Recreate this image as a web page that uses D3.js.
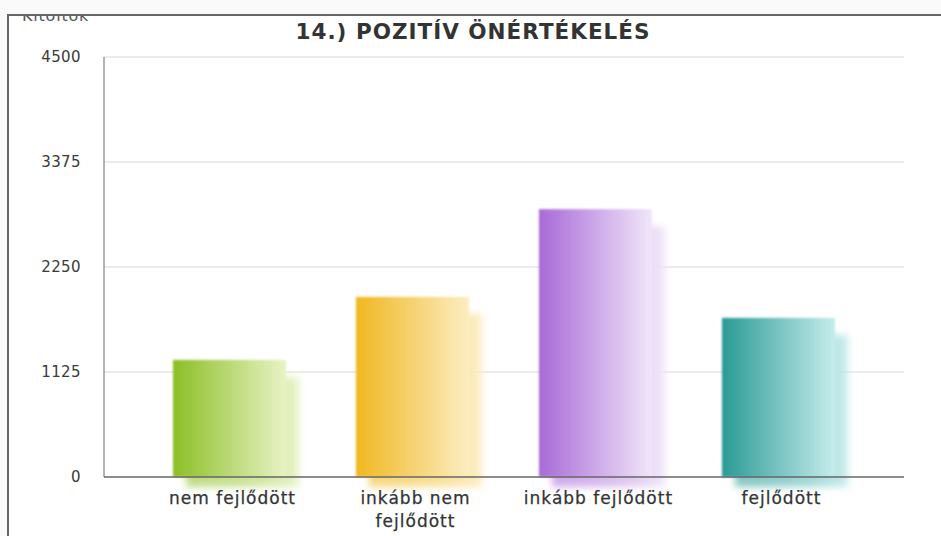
<!DOCTYPE html>
<html>
<head>
<meta charset="utf-8">
<script src="https://cdn.jsdelivr.net/npm/d3@7"></script>
<style>
  html, body { margin: 0; padding: 0; background: #fafafa; }
  svg { display: block; }
</style>
</head>
<body>
<svg id="chart" width="941" height="536"></svg>
<script>
// ---- data ----
const title = "14.) POZITÍV ÖNÉRTÉKELÉS";
const yAxisLabel = "Kitöltők";
const categories = ["nem fejlődött", "inkább nem fejlődött", "inkább fejlődött", "fejlődött"];
const values = [1255, 1930, 2870, 1705];
const yTicks = [0, 1125, 2250, 3375, 4500];
const colorsDark = ["#8cbf26", "#f0b820", "#a86ad8", "#2a9a94"];
const colorsLight = ["#e8f3c6", "#fcedc2", "#f1e6f9", "#c6ecec"];

// ---- layout ----
const W = 941, H = 536;
const svg = d3.select("#chart");
const defs = svg.append("defs");

const x = d3.scaleBand().domain(categories).range([104, 904])
  .paddingInner(0.382).paddingOuter(0.377);
const y = d3.scaleLinear().domain([0, 4500]).range([477, 57]);

// frame
defs.append("clipPath").attr("id", "frameClip")
  .append("rect").attr("x", 9).attr("y", 16).attr("width", W).attr("height", H);
svg.append("rect").attr("x", 8).attr("y", 15).attr("width", W + 10).attr("height", H + 10)
  .attr("fill", "#ffffff").attr("stroke", "#666").attr("stroke-width", 2);

const g = svg.append("g").attr("clip-path", "url(#frameClip)");

// filters
const blur = defs.append("filter").attr("id", "blurShadow")
  .attr("x", "-30%").attr("y", "-30%").attr("width", "160%").attr("height", "160%");
blur.append("feGaussianBlur").attr("stdDeviation", 3.5);
const soft = defs.append("filter").attr("id", "soft")
  .attr("x", "-10%").attr("y", "-10%").attr("width", "120%").attr("height", "120%");
soft.append("feGaussianBlur").attr("stdDeviation", 0.8);

// gridlines
g.append("g").selectAll("line").data(yTicks.filter(d => d > 0)).join("line")
  .attr("x1", 104).attr("x2", 904)
  .attr("y1", d => y(d)).attr("y2", d => y(d))
  .attr("stroke", "#ebebeb").attr("stroke-width", 2);

// gradients
categories.forEach((c, i) => {
  const gr = defs.append("linearGradient").attr("id", "grad" + i)
    .attr("x1", "0%").attr("x2", "100%").attr("y1", "0%").attr("y2", "0%");
  gr.append("stop").attr("offset", "0%").attr("stop-color", colorsDark[i]);
  gr.append("stop").attr("offset", "100%").attr("stop-color", colorsLight[i]);
  const gs = defs.append("linearGradient").attr("id", "shad" + i)
    .attr("x1", "0%").attr("x2", "100%").attr("y1", "0%").attr("y2", "0%");
  gs.append("stop").attr("offset", "0%").attr("stop-color", colorsDark[i]).attr("stop-opacity", 0.55);
  gs.append("stop").attr("offset", "100%").attr("stop-color", colorsLight[i]).attr("stop-opacity", 0.95);
});

// y tick labels
g.append("g").selectAll("text").data(yTicks).join("text")
  .attr("x", 81).attr("y", d => y(d)).attr("dy", "0.36em")
  .attr("text-anchor", "end")
  .attr("font-family", "DejaVu Sans, Verdana, sans-serif")
  .attr("font-size", 15).attr("letter-spacing", 0.4)
  .attr("fill", "#3a3a3a")
  .text(d => d);

// y axis label (clipped at top by the frame)
g.append("text").attr("x", 22).attr("y", 21)
  .attr("font-family", "DejaVu Sans, Verdana, sans-serif")
  .attr("font-size", 16).attr("letter-spacing", 0.8).attr("fill", "#555")
  .text(yAxisLabel);

// bar shadows
const bw = x.bandwidth();
g.append("g").selectAll("rect").data(values).join("rect")
  .attr("x", (d, i) => x(categories[i]) + 13)
  .attr("y", d => y(d) + 17)
  .attr("width", bw)
  .attr("height", d => y(0) - y(d) - 7)
  .attr("fill", (d, i) => `url(#shad${i})`)
  .attr("filter", "url(#blurShadow)");

// bars
g.append("g").selectAll("rect").data(values).join("rect")
  .attr("x", (d, i) => x(categories[i]))
  .attr("y", d => y(d))
  .attr("width", bw)
  .attr("height", d => y(0) - y(d))
  .attr("fill", (d, i) => `url(#grad${i})`)
  .attr("filter", "url(#soft)");

// axes lines
g.append("line").attr("x1", 104).attr("x2", 104).attr("y1", y(4500)).attr("y2", y(0))
  .attr("stroke", "#9a9a9a").attr("stroke-width", 1.5);
g.append("line").attr("x1", 104).attr("x2", 904).attr("y1", y(0)).attr("y2", y(0))
  .attr("stroke", "#666").attr("stroke-width", 1.5);

// category labels with wrapping
const labelFont = "DejaVu Sans, Verdana, sans-serif";
const measure = svg.append("text").attr("font-family", labelFont)
  .attr("font-size", 17).attr("letter-spacing", 1).attr("visibility", "hidden");
function textWidth(s) { measure.text(s); return measure.node().getComputedTextLength(); }
function wrap(s, maxW) {
  const words = s.split(" "); const lines = []; let cur = "";
  words.forEach(w => {
    const t = cur ? cur + " " + w : w;
    if (cur && textWidth(t) > maxW) { lines.push(cur); cur = w; } else cur = t;
  });
  if (cur) lines.push(cur);
  return lines;
}
const labG = g.append("g");
categories.forEach((c, i) => {
  const lines = wrap(c, x.step());
  const t = labG.append("text")
    .attr("x", x(c) + bw / 2 + 3)
    .attr("text-anchor", "middle")
    .attr("font-family", labelFont).attr("font-size", 17).attr("letter-spacing", 1)
    .attr("fill", "#333").attr("stroke", "#333").attr("stroke-width", 0.25);
  lines.forEach((l, k) => {
    t.append("tspan").attr("x", x(c) + bw / 2 + 3).attr("y", 504 + k * 23).text(l);
  });
});
measure.remove();

// title
g.append("text").attr("x", 473).attr("y", 39)
  .attr("text-anchor", "middle")
  .attr("font-family", "DejaVu Sans, Verdana, sans-serif")
  .attr("font-weight", "bold").attr("font-size", 21.5).attr("letter-spacing", 1.0)
  .attr("fill", "#333")
  .text(title);
</script>
</body>
</html>
